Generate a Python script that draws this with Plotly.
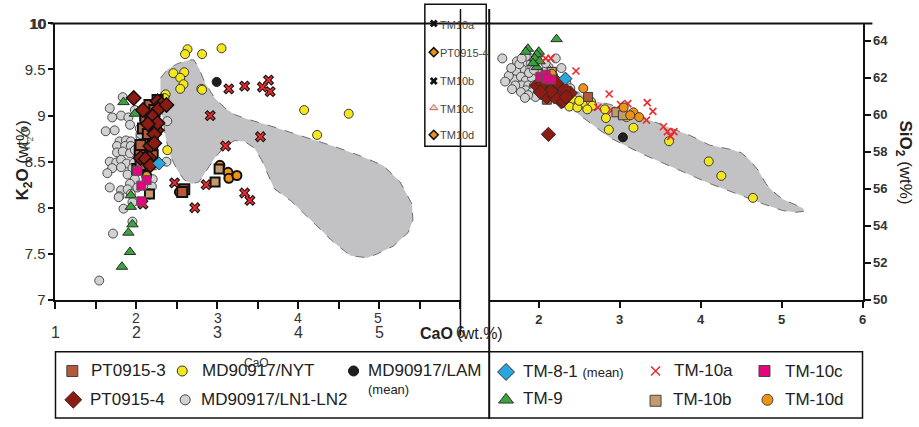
import plotly.graph_objects as go

# ---------------- data: K2O vs CaO (left) ----------------
nyt_cao_l = [2.63, 2.60, 2.81, 3.05, 2.455, 2.59, 2.54, 2.58, 2.54, 2.80, 2.81, 2.36, 2.345, 4.07, 4.62, 4.23, 2.38]
nyt_k2o = [9.72, 9.667, 9.667, 9.73, 9.46, 9.47, 9.41, 9.34, 9.29, 9.29, 9.28, 9.23, 9.19, 9.06, 9.02, 8.79, 8.625]

ln_cao_l = [1.83, 1.67, 1.70, 1.81, 1.90, 1.92, 2.38, 1.98, 1.79, 1.87, 1.93, 2.05, 2.05, 1.76, 1.86, 1.93,
            1.76, 1.83, 1.92, 1.98, 1.67, 1.75, 1.81, 1.88, 1.97, 1.70, 1.81, 1.95, 1.89, 1.98, 1.92, 1.81,
            1.89, 1.79, 1.93, 2.22, 2.37, 2.20, 1.78, 1.95, 1.84, 1.95, 1.71, 1.54, 2.19, 2.04, 1.62, 1.73,
            2.10, 2.03, 1.64, 2.08, 1.67, 2.01]
ln_k2o = [9.20, 9.08, 8.98, 9.00, 8.98, 8.90, 8.94, 9.06, 8.72, 8.73, 8.72, 8.77, 8.80, 8.67, 8.67, 8.67,
          8.60, 8.61, 8.59, 8.625, 8.50, 8.49, 8.52, 8.48, 8.49, 8.43, 8.44, 8.43, 8.36, 8.31, 8.26, 8.19,
          8.20, 8.125, 8.15, 8.46, 8.50, 8.31, 8.115, 8.06, 7.99, 7.85, 7.72, 7.21, 8.23, 8.86, 8.83, 8.84,
          8.70, 8.57, 8.375, 8.41, 8.22, 8.22]

lam_cao_l = [2.99]
lam_k2o = [9.365]

tm81_cao_l = [2.28]
tm81_k2o = [8.48]

tm9_cao_l = [1.84, 1.98, 2.16, 1.93, 1.93, 1.95, 1.90, 1.92, 1.82]
tm9_k2o = [9.146, 9.02, 8.51, 8.135, 8.01, 7.82, 7.73, 7.52, 7.36]

pt3_cao_l = [2.26, 2.16, 2.11, 2.11, 2.17, 2.22, 2.08, 2.04, 2.05, 2.19, 2.20, 2.14, 2.01, 2.05, 2.59, 2.565, 2.20, 2.14]
pt3_k2o = [9.17, 9.115, 9.01, 8.95, 8.94, 9.06, 8.86, 8.625, 8.68, 8.635, 8.72, 8.54, 8.42, 8.46, 8.20, 8.17, 8.57, 8.80]

pt4_cao_l = [1.966, 2.08, 2.26, 2.31, 2.27, 2.37, 2.20, 2.19, 2.25, 2.22, 2.26, 2.17, 2.22, 2.16, 2.05, 2.11, 2.17, 2.14]
pt4_k2o = [9.19, 9.06, 9.156, 9.125, 9.07, 9.115, 8.99, 8.875, 8.84, 8.80, 8.92, 8.67, 8.70, 8.54, 8.54, 8.53, 8.46, 8.91]

tm10a_cao_l = [3.14, 3.335, 3.555, 3.63, 3.65, 2.91, 3.53, 3.10, 2.47, 2.86, 2.72, 3.335, 3.40, 2.22, 2.25, 2.08]
tm10a_k2o = [9.29, 9.32, 9.31, 9.385, 9.26, 9.00, 8.77, 8.67, 8.27, 8.25, 8.00, 8.16, 8.08, 8.94, 9.06, 8.04]

tm10b_cao_l = [2.16, 2.97, 3.02]
tm10b_k2o = [8.15, 8.28, 8.42]

tm10c_cao_l = [2.01, 2.125, 2.06, 2.06]
tm10c_k2o = [8.40, 8.30, 8.24, 8.07]

tm10d_cao_l = [3.03, 3.13, 3.14, 3.24, 2.53, 2.125, 2.16]
tm10d_k2o = [8.46, 8.385, 8.32, 8.35, 8.17, 8.35, 8.15]

# field outline, K2O vs CaO
field_cao_l = [2.296, 2.381, 2.504, 2.65, 2.71, 2.773, 2.846, 2.968, 3.09, 3.213, 3.384, 3.665, 4.032, 4.435,
               4.765, 5.046, 5.254, 5.40, 5.413, 5.352, 5.169, 4.973, 4.851, 4.643, 4.435, 4.19, 4.032, 3.91,
               3.70, 3.543, 3.457, 3.335, 3.213, 3.09, 2.968, 2.846, 2.773, 2.687, 2.589, 2.504, 2.418, 2.357,
               2.32, 2.296]
field_k2o = [9.406, 9.50, 9.5625, 9.604, 9.604, 9.51, 9.354, 9.1875, 9.083, 9.01, 8.958, 8.885, 8.78, 8.667,
             8.5625, 8.458, 8.281, 8.042, 7.865, 7.729, 7.583, 7.50, 7.458, 7.479, 7.625, 7.833, 7.969, 8.073,
             8.208, 8.521, 8.646, 8.719, 8.729, 8.667, 8.542, 8.385, 8.281, 8.26, 8.302, 8.406, 8.5625, 8.771,
             9.01, 9.25]

# ---------------- data: SiO2 vs CaO (right) ----------------
nyt_cao_r = [2.415, 2.378, 2.476, 2.573, 2.646, 2.66, 2.60, 2.817, 2.83, 2.866, 3.085, 3.17, 3.61, 4.10, 4.256, 4.646, 2.50]
nyt_sio2 = [60.86, 60.44, 60.39, 60.60, 60.70, 60.49, 60.29, 60.29, 59.82, 59.19, 59.87, 59.30, 58.57, 57.48, 56.70, 55.51, 60.75]

ln_cao_r = [1.55, 1.73, 1.79, 1.72, 1.84, 2.21, 2.12, 2.28, 1.70, 1.78, 1.84, 1.915, 1.79, 1.87, 1.94, 1.84,
            1.915, 1.99, 2.04, 2.34, 2.39, 2.27, 1.78, 1.71, 1.63, 1.88, 2.00, 2.10, 2.06, 1.96, 1.87, 2.04,
            2.12, 2.18, 1.66, 1.76, 1.90, 1.585, 1.83, 2.10, 2.24, 2.18, 2.01, 1.67, 1.94, 2.37, 2.085, 1.79]
ln_sio2 = [63.04, 62.88, 62.47, 62.36, 63.14, 63.04, 62.57, 62.52, 61.90, 62.05, 61.84, 62.00, 61.58, 61.58, 61.58, 61.32,
           61.22, 61.22, 61.43, 61.74, 61.43, 61.48, 61.22, 61.58, 62.10, 62.26, 62.26, 62.47, 61.84, 60.96, 61.06, 61.06,
           61.32, 62.10, 62.52, 62.73, 62.73, 61.79, 60.91, 60.86, 60.81, 61.69, 61.69, 61.38, 62.42, 60.86, 62.78, 63.04]

lam_cao_r = [3.04]
lam_sio2 = [58.78]

tm81_cao_r = [2.33]
tm81_sio2 = [61.95]

tm9_cao_r = [2.22, 1.866, 1.84, 2.00, 1.976, 1.95, 2.01, 1.976, 1.93]
tm9_sio2 = [64.08, 63.56, 63.40, 63.40, 63.25, 63.04, 62.88, 62.57, 62.78]

pt3_cao_r = [2.16, 2.11, 2.07, 2.085, 2.12, 2.10, 2.21, 2.27, 2.61, 2.04, 2.18, 2.15, 2.06, 2.24]
pt3_sio2 = [62.31, 61.84, 61.64, 61.32, 61.06, 60.81, 61.01, 61.17, 60.96, 62.00, 61.48, 62.10, 61.17, 61.58]

pt4_cao_r = [1.976, 2.07, 2.10, 2.21, 2.24, 2.27, 2.28, 2.30, 2.39, 2.12, 2.16, 2.195, 2.05, 2.23, 2.15, 2.32, 2.02, 2.34]
pt4_sio2 = [61.58, 61.27, 60.96, 61.43, 61.22, 61.06, 60.70, 60.75, 61.17, 58.94, 61.58, 60.96, 61.69, 61.74, 61.27, 61.38, 61.22, 60.96]

tm10a_cao_r = [2.085, 2.15, 2.46, 2.21, 2.27, 2.87, 2.73, 2.90, 3.01, 3.10, 3.34, 3.41, 3.33, 3.54, 3.59, 3.67, 3.63]
tm10a_sio2 = [63.04, 63.04, 62.36, 61.79, 61.64, 61.12, 60.39, 60.23, 60.55, 60.60, 60.65, 60.18, 59.71, 59.35, 59.09, 59.09, 58.83]

tm10b_cao_r = [2.96, 3.04, 2.16]
tm10b_sio2 = [60.13, 59.97, 62.31]

tm10c_cao_r = [2.02, 2.085, 2.15, 2.10]
tm10c_sio2 = [62.05, 62.16, 61.90, 61.95]

tm10d_cao_r = [2.16, 2.55, 3.05, 3.17, 3.13, 3.24]
tm10d_sio2 = [62.21, 61.43, 60.39, 60.13, 59.97, 59.87]

# field outline, SiO2 vs CaO
field_cao_r = [2.40, 2.49, 2.61, 2.89, 3.18, 3.50, 3.87, 4.11, 4.28, 4.40, 4.50, 4.60, 4.71, 4.805, 4.89, 5.01,
               5.17, 5.27, 5.27, 5.17, 5.01, 4.77, 4.52, 4.11, 3.71, 3.30, 2.89, 2.65, 2.49, 2.37, 2.35]
field_sio2 = [61.22, 61.22, 60.81, 60.55, 60.03, 59.51, 58.88, 58.36, 58.21, 58.10, 57.95, 57.58, 57.01, 56.29, 55.87, 55.45,
              55.14, 54.94, 54.78, 54.73, 54.83, 55.19, 55.61, 56.29, 57.06, 57.84, 58.73, 59.51, 60.03, 60.55, 60.91]

# axis ticks
k2o_ticks = [7, 7.5, 8, 8.5, 9, 9.5, 10]
k2o_ticktext = ["7", "7.5", "8", "8.5", "9", "9.5", "10"]
cao_l_ticks = [1, 1.5, 2, 2.5, 3, 3.5, 4, 4.5, 5, 5.5, 6]
cao_l_ticktext = ["1", "", "2", "", "3", "", "4", "", "5", "", "6"]
cao_r_ticks = [2, 3, 4, 5, 6]
sio2_ticks = [50, 52, 54, 56, 58, 60, 62, 64]

# ---------------- styling ----------------
W, H = 919, 427
FONT = "Liberation Sans, Arial, sans-serif"
NARROW = "Liberation Sans Narrow, Liberation Sans, Arial, sans-serif"
C_PT3 = "#b4593a"
C_PT4 = "#8e1b12"
C_NYT = "#f4e81c"
C_LN = "#d2d2d2"
C_LAM = "#1e1e1e"
C_TM81 = "#2aa6df"
C_TM9 = "#3aa43c"
C_TM10A = "#ec2a2e"
C_TM10B = "#c49b6c"
C_TM10C = "#e4047f"
C_TM10D = "#f29214"
C_FIELD = "#c2c2c4"
EDGE = "#2a2a2a"


def px(x):
    return x / W


def py(y):
    return 1 - y / H


fig = go.Figure()


def pts(x, y, ax, symbol, color, size, edge=EDGE, lw=1.0, opacity=1.0):
    fig.add_trace(go.Scatter(
        x=x, y=y, mode="markers", xaxis=ax[0], yaxis=ax[1], showlegend=False, hoverinfo="skip",
        marker=dict(symbol=symbol, color=color, size=size, opacity=opacity,
                    line=dict(color=edge, width=lw))))


def field(x, y, ax):
    fig.add_trace(go.Scatter(
        x=x, y=y, mode="lines", fill="toself", fillcolor=C_FIELD, xaxis=ax[0], yaxis=ax[1],
        line=dict(color="#6e6e6e", width=1, dash="dash"), showlegend=False, hoverinfo="skip"))


L = ("x", "y")
R = ("x2", "y2")

# left panel
field(field_cao_l, field_k2o, L)
pts(ln_cao_l, ln_k2o, L, "circle", C_LN, 9, "#4a4a4a", 1)
pts(tm9_cao_l, tm9_k2o, L, "triangle-up", C_TM9, 10, "#2b2b2b", 1)
pts(nyt_cao_l, nyt_k2o, L, "circle", C_NYT, 9, "#3a3a3a", 1)
pts(lam_cao_l, lam_k2o, L, "circle", C_LAM, 9, "#111", 1)
pts(tm10a_cao_l, tm10a_k2o, L, "x", "#111", 10, "#111", 0)
pts(tm10a_cao_l, tm10a_k2o, L, "x-thin-open", C_TM10A, 7, C_TM10A, 2)
pts(tm10d_cao_l, tm10d_k2o, L, "circle", C_TM10D, 9, "#111", 2)
pts(tm10b_cao_l, tm10b_k2o, L, "square", C_TM10B, 9, "#111", 2)
pts(pt3_cao_l, pt3_k2o, L, "square", C_PT3, 10, "#111", 2)
pts(pt4_cao_l, pt4_k2o, L, "diamond", C_PT4, 11, "#111", 1.5)
pts(tm10c_cao_l, tm10c_k2o, L, "square", C_TM10C, 9, "#555", 1)
pts(tm81_cao_l, tm81_k2o, L, "diamond", C_TM81, 10, "#333", 1)

# right panel
field(field_cao_r, field_sio2, R)
pts(ln_cao_r, ln_sio2, R, "circle", C_LN, 9, "#4a4a4a", 1)
pts(tm9_cao_r, tm9_sio2, R, "triangle-up", C_TM9, 10, "#2b2b2b", 1)
pts(nyt_cao_r, nyt_sio2, R, "circle", C_NYT, 9, "#3a3a3a", 1)
pts(tm10a_cao_r, tm10a_sio2, R, "x-thin-open", C_TM10A, 7, C_TM10A, 1.6)
pts(pt3_cao_r, pt3_sio2, R, "square", C_PT3, 9, "#3a3a3a", 1)
pts(pt4_cao_r, pt4_sio2, R, "diamond", C_PT4, 11, "#2a2a2a", 1)
pts(tm10b_cao_r, tm10b_sio2, R, "square", C_TM10B, 9, "#3a3a3a", 1)
pts(tm10d_cao_r, tm10d_sio2, R, "circle", C_TM10D, 9, "#3a3a3a", 1)
pts(tm10c_cao_r, tm10c_sio2, R, "square", C_TM10C, 9, "#555", 1)
pts(tm81_cao_r, tm81_sio2, R, "diamond", C_TM81, 10, "#333", 1)
pts(lam_cao_r, lam_sio2, R, "circle", C_LAM, 9, "#111", 1)

# ---------------- legend swatches on a full-page overlay axis ----------------
O = ("x3", "y3")
swatches = [
    # (x, y, symbol, color, size, edge, lw)
    (69, 377, "square", C_PT3, 11, "#444", 1),
    (180, 377, "circle", C_NYT, 10, "#333", 1),
    (353, 377, "circle", C_LAM, 10, "#111", 1),
    (70, 407, "diamond", C_PT4, 13, "#333", 1),
    (183, 407, "circle", C_LN, 10, "#444", 1),
    (507, 378, "diamond", C_TM81, 13, "#333", 1),
    (658, 377, "x-thin-open", C_TM10A, 9, C_TM10A, 1.5),
    (768, 377, "square", C_TM10C, 11, "#444", 1),
    (507, 407, "triangle-up", C_TM9, 13, "#333", 1),
    (658, 408, "square", C_TM10B, 11, "#444", 1),
    (771, 407, "circle", C_TM10D, 11, "#444", 1),
    # small inset key
    (434, 15, "x", "#111", 7, "#111", 0),
    (434, 45, "diamond", C_TM10D, 7, "#111", 1.5),
    (434, 75, "x", "#111", 7, "#111", 0),
    (434, 103, "triangle-up", "#cfe6cf", 7, "#d33", 0.8),
    (434, 131, "diamond", C_TM10D, 7, "#111", 1.5),
]
for sx, sy, sym, col, sz, ed, lw in swatches:
    pts([sx], [sy], O, sym, col, sz, ed, lw)

# ---------------- axes ----------------
ydom = [py(303), py(15)]
axis_common = dict(showgrid=False, zeroline=False, showline=True, linecolor="#111",
                   ticks="outside", tickcolor="#111", fixedrange=True)
fig.update_layout(
    xaxis=dict(domain=[px(52), px(461)], range=[1, 6], anchor="y", linewidth=2,
               tickvals=cao_l_ticks, ticktext=cao_l_ticktext, ticklen=7, tickwidth=1.5,
               tickfont=dict(family=NARROW, size=16, color="#333"), ticklabelstandoff=10,
               **axis_common),
    yaxis=dict(domain=ydom, range=[7, 10], anchor="x", linewidth=2,
               tickvals=k2o_ticks, ticktext=k2o_ticktext, ticklen=5, tickwidth=1.5,
               tickfont=dict(family=NARROW, size=15, color="#333"), **axis_common),
    xaxis2=dict(domain=[px(490), px(867)], range=[1.388, 6], anchor="y2", linewidth=2,
                tickvals=cao_r_ticks, ticklen=6, tickwidth=1.5,
                tickfont=dict(family=FONT, size=13, color="#333", weight="bold"), **axis_common),
    yaxis2=dict(domain=ydom, range=[50, 64.93], anchor="x2", side="right", linewidth=2,
                tickvals=sio2_ticks, ticklen=6, tickwidth=1.5,
                tickfont=dict(family=FONT, size=13, color="#333", weight="bold"), **axis_common),
    xaxis3=dict(domain=[0, 1], range=[0, W], anchor="y3", visible=False, fixedrange=True),
    yaxis3=dict(domain=[0, 1], range=[H, 0], anchor="x3", visible=False, fixedrange=True),
)

# ---------------- frame lines and boxes ----------------
line = dict(color="#111", width=1.5)
shapes = [
    dict(type="line", x0=px(47), x1=px(877), y0=py(15), y1=py(15), line=dict(color="#111", width=2)),
    dict(type="line", x0=px(461), x1=px(461), y0=py(0), y1=py(340), line=line),
    dict(type="rect", x0=px(425), x1=px(487), y0=py(-5), y1=py(143), line=line),
    dict(type="line", x0=px(490), x1=px(490), y0=py(0), y1=py(427), line=dict(color="#111", width=2)),
    dict(type="rect", x0=px(52), x1=px(867), y0=py(357), y1=py(426), line=line),
]
for s in shapes:
    s.update(xref="paper", yref="paper", layer="above")
fig.update_layout(shapes=shapes)

# ---------------- texts ----------------
ann = []


def text(x, y, t, size, family=FONT, color="#222", xanchor="left", angle=0, bold=False):
    if bold:
        t = "<b>" + t + "</b>"
    ann.append(dict(x=px(x), y=py(y), xref="paper", yref="paper", text=t, showarrow=False,
                    xanchor=xanchor, yanchor="middle", textangle=angle,
                    font=dict(family=family, size=size, color=color)))


# axis titles
text(20, 158, "<b>K<sub>2</sub>O</b> (wt%)", 17, xanchor="center", angle=-90)
text(23, 135, "K<sub>2</sub>O", 12, family=NARROW, color="#444", xanchor="center", angle=-90)
text(462, 338, "<b>CaO</b> (wt.%)", 16, xanchor="center")
text(909, 160, "<b>SiO<sub>2</sub></b> (wt%)", 17, xanchor="center", angle=90)

# second set of CaO tick labels on the left panel
for v, xp in [("2", 133), ("3", 216), ("4", 297), ("5", 378)]:
    text(xp, 322, v, 14, family=NARROW, color="#333", xanchor="center")
text(45, 15, "<b>10</b>", 15, family=NARROW, color="#333", xanchor="right")

# inset key labels
for lab, yy in [("TM10a", 17), ("PT0915-4", 46), ("TM10b", 75), ("TM10c", 104), ("TM10d", 131)]:
    text(438, yy, lab, 11, family=NARROW, color="#444")

# bottom key labels
text(86, 377, "PT0915-3", 17)
text(198, 377, "MD90917/NYT", 17)
text(366, 377, "MD90917/LAM", 17)
text(366, 396, "(mean)", 13)
text(85, 407, "PT0915-4", 17)
text(197, 407, "MD90917/LN1-LN2", 17)
text(255, 369, "CaO", 12, family=NARROW, color="#333", xanchor="center")
text(522, 378, "TM-8-1 <span style='font-size:13px'>(mean)</span>", 17)
text(675, 376, "TM-10a", 17)
text(787, 378, "TM-10c", 17)
text(522, 406, "TM-9", 17)
text(674, 407, "TM-10b", 17)
text(787, 407, "TM-10d", 17)

fig.update_layout(
    annotations=ann,
    width=W, height=H,
    margin=dict(l=0, r=0, t=0, b=0),
    paper_bgcolor="white",
    plot_bgcolor="rgba(0,0,0,0)",
    font=dict(family=FONT, color="#222"),
    showlegend=False,
)

fig.write_html("out.html", config={"displayModeBar": False})
